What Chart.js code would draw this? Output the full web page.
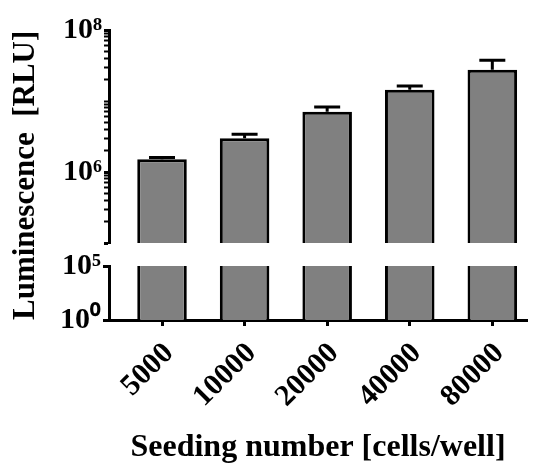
<!DOCTYPE html>
<html>
<head>
<meta charset="utf-8">
<script src="https://cdn.jsdelivr.net/npm/chart.js@4.4.0/dist/chart.umd.min.js"></script>
<style>
  html, body { margin: 0; padding: 0; background: #fff; }
</style>
</head>
<body>
<canvas id="chart" width="536" height="464"></canvas>
<script>
const categories = ["5000", "10000", "20000", "40000", "80000"];
const luminescence = [1.51e6, 2.99e6, 7.08e6, 1.44e7, 2.75e7];
const errors = [0.09e6, 0.41e6, 1.17e6, 0.19e7, 1.01e7];
const upperLabels = [1e6, 1e8];
const lowerLabels = [1, 1e5];
const breakAt = 1e5;

const serif = '"Liberation Serif", "Times New Roman", serif';
const SUP = "⁰¹²³⁴⁵⁶⁷⁸⁹";
const pow10 = (v) => "10" + String(Math.round(Math.log10(v))).split("").map(d => SUP[d]).join("");

// all decade ticks (1..9 x 10^n) on the upper part, labels only on the chosen ones
function upperTicks(scale) {
    const t = [];
    for (let e = 5; e < 8; e++) {
        for (let m = 1; m < 10; m++) t.push({ value: m * Math.pow(10, e) });
    }
    t.push({ value: 1e8 });
    scale.ticks = t;
}

const errorBars = {
    id: "errorBars",
    afterDatasetsDraw(chart) {
        const { ctx, scales } = chart;
        ctx.save();
        ctx.strokeStyle = "#000";
        ctx.lineWidth = 3;
        luminescence.forEach((v, i) => {
            const px = scales.x.getPixelForValue(i);
            const y0 = scales.yTop.getPixelForValue(v);
            const y1 = scales.yTop.getPixelForValue(v + errors[i]);
            ctx.beginPath();
            ctx.moveTo(px, y0);
            ctx.lineTo(px, y1);
            ctx.moveTo(px - 13, y1);
            ctx.lineTo(px + 13, y1);
            ctx.stroke();
        });
        ctx.restore();
    }
};

const axisBorder = { display: true, color: "#000", width: 3 };

const ctx = document.getElementById("chart").getContext("2d");
const myChart = new Chart(ctx, {
    type: "bar",
    data: {
        datasets: [
            {
                label: "upper",
                data: categories.map((c, i) => ({ x: i, y: luminescence[i] })),
                yAxisID: "yTop",
                backgroundColor: "#808080",
                borderColor: "#000",
                borderWidth: { top: 3, left: 3, right: 3, bottom: 0 },
                grouped: false,
                barPercentage: 0.6,
                categoryPercentage: 1,
            },
            {
                label: "lower",
                data: categories.map((c, i) => ({ x: i, y: Math.min(luminescence[i], breakAt) })),
                yAxisID: "yLow",
                backgroundColor: "#808080",
                borderColor: "#000",
                borderWidth: { top: 0, left: 3, right: 3, bottom: 0 },
                grouped: false,
                barPercentage: 0.6,
                categoryPercentage: 1,
            },
        ],
    },
    options: {
        responsive: false,
        animation: false,
        layout: { padding: { left: 0, right: 9, top: 30, bottom: 0 } },
        plugins: { legend: { display: false }, tooltip: { enabled: false } },
        scales: {
            x: {
                type: "linear",
                offset: false,
                min: -0.642,
                max: 4.42,
                afterBuildTicks: (s) => { s.ticks = categories.map((c, i) => ({ value: i })); },
                afterFit: (s) => { s.height = 144; },
                border: axisBorder,
                grid: { offset: false, drawOnChartArea: false, tickLength: 6, tickWidth: 3, tickColor: "#000" },
                ticks: {
                    autoSkip: false,
                    maxRotation: 45,
                    minRotation: 45,
                    padding: 10,
                    labelOffset: 7,
                    color: "#000",
                    font: { family: serif, size: 30, weight: "bold" },
                    callback: (v) => categories[v],
                },
                title: {
                    display: true,
                    text: "Seeding number [cells/well]",
                    color: "#000",
                    padding: 0,
                    font: { family: serif, size: 32, weight: "bold", lineHeight: 1 },
                },
            },
            yLow: {
                type: "logarithmic",
                position: "left",
                stack: "y",
                stackWeight: 54,
                min: 1,
                max: breakAt,
                afterBuildTicks: (s) => { s.ticks = lowerLabels.map(v => ({ value: v })); },
                afterFit: (s) => { s.width = 109; },
                border: axisBorder,
                grid: { drawOnChartArea: false, tickLength: 6, tickWidth: 3, tickColor: "#000" },
                ticks: {
                    autoSkip: false,
                    padding: 2,
                    color: "#000",
                    font: { family: serif, size: 30, weight: "bold" },
                    callback: (v) => pow10(v),
                },
                title: {
                    display: true,
                    text: "Luminescence  [RLU]",
                    align: "start",
                    color: "#000",
                    padding: { top: 7 },
                    font: { family: serif, size: 31, weight: "bold" },
                },
            },
            yGap: {
                type: "linear",
                position: "left",
                stack: "y",
                stackWeight: 23,
                min: 0,
                max: 1,
                afterFit: (s) => { s.width = 109; },
                border: { display: false },
                grid: { display: false },
                ticks: { display: false },
            },
            yTop: {
                type: "logarithmic",
                position: "left",
                stack: "y",
                stackWeight: 213,
                min: breakAt,
                max: 1e8,
                afterBuildTicks: upperTicks,
                afterFit: (s) => { s.width = 109; },
                border: axisBorder,
                grid: {
                    drawOnChartArea: false,
                    tickLength: 5,
                    tickWidth: (c) => (upperLabels.includes(c.tick.value) || c.tick.value === breakAt ? 3 : 2),
                    tickColor: "#000",
                },
                ticks: {
                    autoSkip: false,
                    padding: 2,
                    color: "#000",
                    font: { family: serif, size: 30, weight: "bold" },
                    callback: (v) => (upperLabels.includes(v) ? pow10(v) : ""),
                },
            },
        },
    },
    plugins: [errorBars],
});
</script>
</body>
</html>
